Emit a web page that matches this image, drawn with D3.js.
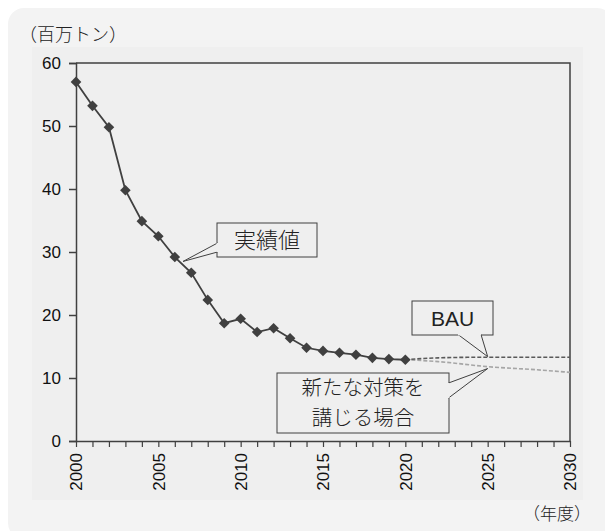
<!DOCTYPE html>
<html>
<head>
<meta charset="utf-8">
<script src="https://cdn.jsdelivr.net/npm/d3@7"></script>
<style>
  html, body { margin: 0; padding: 0; background: #fff; }
  svg { display: block; }
</style>
</head>
<body>
<script>
// data
const years = d3.range(2000, 2021);
const actual = [57.0, 53.2, 49.8, 39.8, 34.9, 32.5, 29.2, 26.7, 22.4, 18.7, 19.4,
  17.3, 17.9, 16.3, 14.8, 14.3, 14.0, 13.7, 13.2, 13.0, 12.9];
const bauYears = [2020, 2022, 2025, 2028, 2030];
const bau = [12.9, 13.2, 13.3, 13.3, 13.3];
const measureYears = [2020, 2022, 2025, 2028, 2030];
const measures = [12.9, 12.6, 11.8, 11.3, 10.9];
const yTicks = [0, 10, 20, 30, 40, 50, 60];
const xLabels = [2000, 2005, 2010, 2015, 2020, 2025, 2030];

const W = 605, H = 531;
const jp = "'Noto Sans CJK JP', 'Noto Sans', sans-serif";
const num = "'Liberation Sans', Arial, sans-serif";

const svg = d3.select("body").append("svg").attr("width", W).attr("height", H);

// card backgrounds
svg.append("rect").attr("x", 8).attr("y", 8).attr("width", W).attr("height", H)
  .attr("rx", 16).attr("fill", "#f3f3f3");
svg.append("rect").attr("x", 32).attr("y", 47).attr("width", 551).attr("height", 453)
  .attr("fill", "#efefef");

const x = d3.scaleLinear().domain([2000, 2030]).range([76, 570]);
const y = d3.scaleLinear().domain([0, 60]).range([441, 63]);

// frame (top and right)
const frame = svg.append("g").attr("stroke", "#404040").attr("stroke-width", 1.5).attr("fill", "none");
frame.append("path").attr("d", `M${x(2000)},${y(60)}H${x(2030)}V${y(0)}`);

// y axis
const yAxis = svg.append("g").attr("transform", `translate(${x(2000)},0)`)
  .call(d3.axisLeft(y).tickValues(yTicks).tickSize(7).tickPadding(8).tickFormat(d3.format("d")));
yAxis.select(".domain").attr("stroke", "#404040").attr("stroke-width", 1.5);
yAxis.selectAll(".tick line").attr("stroke", "#404040").attr("stroke-width", 1.5);
yAxis.selectAll("text").attr("font-family", num).attr("font-size", 17).attr("fill", "#111");

// x axis
const xAxis = svg.append("g").attr("transform", `translate(0,${y(0)})`)
  .call(d3.axisBottom(x).tickValues(d3.range(2000, 2031)).tickSize(6).tickSizeOuter(0)
    .tickFormat(d => xLabels.includes(d) ? d : ""));
xAxis.select(".domain").attr("stroke", "#404040").attr("stroke-width", 1.5);
xAxis.selectAll(".tick line").attr("stroke", "#404040").attr("stroke-width", 1.2);
xAxis.selectAll("text")
  .attr("font-family", num).attr("font-size", 17).attr("fill", "#111")
  .attr("transform", "rotate(-90)")
  .attr("text-anchor", "end").attr("x", -12).attr("y", 0).attr("dy", "0.35em");

// projections
const line = d3.line().x(d => x(d[0])).y(d => y(d[1])).curve(d3.curveMonotoneX);
svg.append("path").datum(d3.zip(measureYears, measures)).attr("d", line)
  .attr("fill", "none").attr("stroke", "#a6a6a6").attr("stroke-width", 1.6)
  .attr("stroke-dasharray", "4,2");
svg.append("path").datum(d3.zip(bauYears, bau)).attr("d", line)
  .attr("fill", "none").attr("stroke", "#595959").attr("stroke-width", 1.6)
  .attr("stroke-dasharray", "4,2");

// actual
const actLine = d3.line().x(d => x(d[0])).y(d => y(d[1]));
svg.append("path").datum(d3.zip(years, actual)).attr("d", actLine)
  .attr("fill", "none").attr("stroke", "#404040").attr("stroke-width", 1.8);
svg.append("g").selectAll("path").data(d3.zip(years, actual)).join("path")
  .attr("d", d3.symbol(d3.symbolDiamond2, 72))
  .attr("transform", d => `translate(${x(d[0])},${y(d[1])})`)
  .attr("fill", "#404040");

// callouts
function callout(box, base, tip, lines, font, size, weight, lh) {
  const g = svg.append("g");
  g.append("rect").attr("x", box[0]).attr("y", box[1])
    .attr("width", box[2] - box[0]).attr("height", box[3] - box[1])
    .attr("fill", "#efefef").attr("stroke", "#404040").attr("stroke-width", 1);
  g.append("path").attr("d", `M${base[0][0]},${base[0][1]}L${tip[0]},${tip[1]}L${base[1][0]},${base[1][1]}`)
    .attr("fill", "#efefef").attr("stroke", "#404040").attr("stroke-width", 1);
  // cover the box edge between the pointer base points
  g.append("path").attr("d", `M${base[0][0]},${base[0][1]}L${base[1][0]},${base[1][1]}`)
    .attr("stroke", "#efefef").attr("stroke-width", 2);
  const cx = (box[0] + box[2]) / 2;
  const cy = (box[1] + box[3]) / 2;
  const txt = g.append("text").attr("text-anchor", "middle")
    .attr("font-family", font).attr("font-size", size).attr("font-weight", weight)
    .attr("fill", "#222");
  lines.forEach((t, i) => {
    txt.append("tspan").attr("x", cx).attr("y", cy + (i - (lines.length - 1) / 2) * lh)
      .attr("dy", "0.36em").text(t);
  });
}
callout([217, 223, 317, 257], [[217.5, 243], [217.5, 252]], [x(2006.5), y(28.5)], ["実績値"], jp, 22, 300, 26);
callout([412, 301, 493, 335], [[458, 334.5], [481, 334.5]], [x(2025), y(13.4)], ["BAU"], num, 21, 400, 25);
callout([277, 373, 449, 433], [[448.5, 383], [448.5, 398]], [x(2025), y(11.5)], ["新たな対策を", "講じる場合"], jp, 20.5, 300, 30);

// unit labels
svg.append("text").attr("x", 19).attr("y", 41).attr("font-family", jp).attr("font-size", 18)
  .attr("font-weight", 300).attr("fill", "#222").text("（百万トン）");
svg.append("text").attr("x", 591).attr("y", 520).attr("text-anchor", "end")
  .attr("font-family", jp).attr("font-size", 17).attr("font-weight", 300)
  .attr("fill", "#222").text("（年度）");
</script>
</body>
</html>
